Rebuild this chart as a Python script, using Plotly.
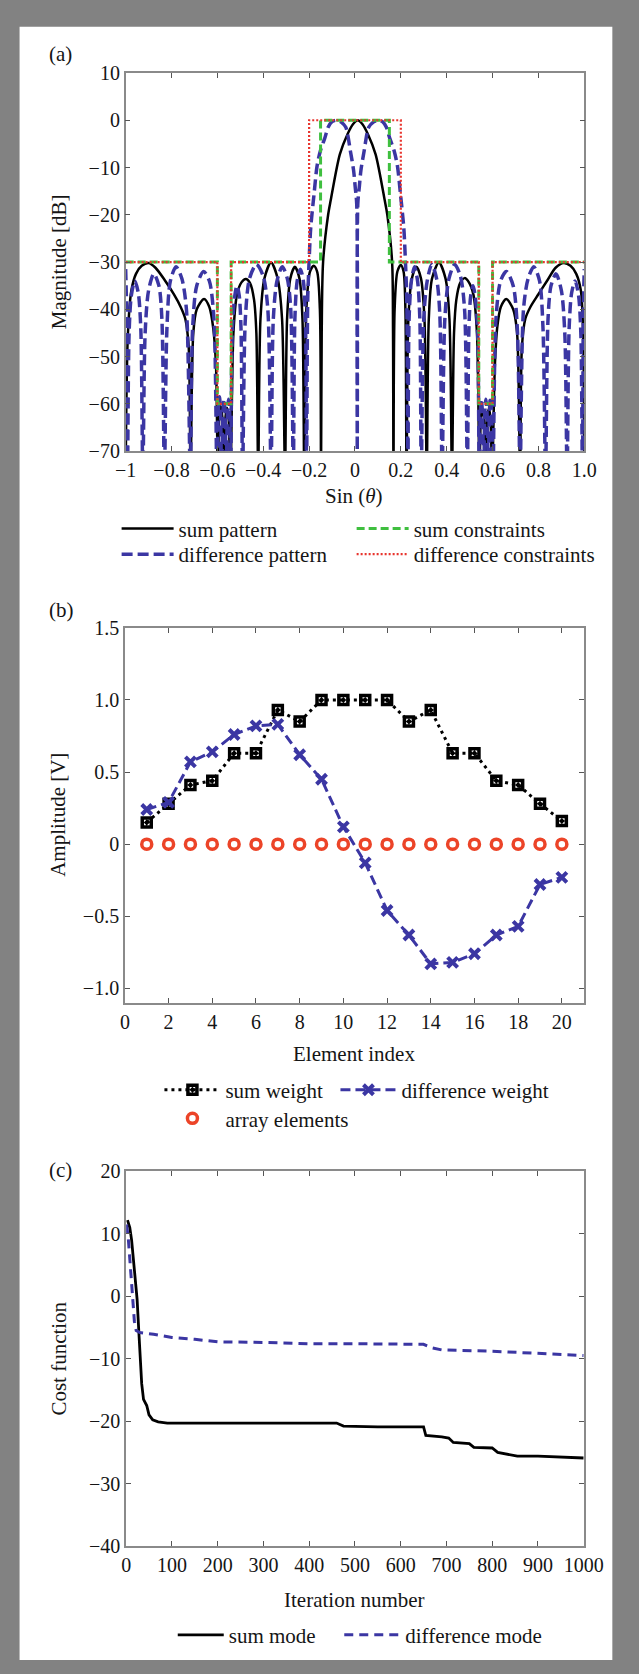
import plotly.graph_objects as go

W, H = 639, 1674
FONT = "Liberation Serif"

# ---------------- Panel (a) data ----------------
sum_x = [-1.0, -0.99, -0.975, -0.955, -0.93, -0.9, -0.87, -0.83, -0.79, -0.76, -0.74, -0.725, -0.717,
         -0.705, -0.69, -0.658, -0.635, -0.618, -0.606, -0.598,
         -0.592, -0.585, -0.578, -0.572, -0.565, -0.558, -0.551, -0.543,
         -0.53, -0.515, -0.495, -0.476, -0.457, -0.44, -0.43, -0.422,
         -0.412, -0.395, -0.366, -0.337, -0.318, -0.305,
         -0.296, -0.282, -0.262, -0.242, -0.229, -0.221,
         -0.212, -0.196, -0.18, -0.165, -0.153, -0.148,
         -0.145, -0.139, -0.117, -0.106, -0.066, -0.033, -0.008, 0.012,
         0.032, 0.057, 0.09, 0.13, 0.141, 0.162, 0.166, 0.168,
         0.173, 0.185, 0.2, 0.212, 0.22, 0.225,
         0.233, 0.248, 0.268, 0.288, 0.303, 0.313,
         0.322, 0.336, 0.366, 0.395, 0.412, 0.423,
         0.432, 0.442, 0.458, 0.478, 0.497, 0.517, 0.532, 0.543,
         0.549, 0.556, 0.563, 0.57, 0.577, 0.584, 0.591, 0.598,
         0.61, 0.62, 0.636, 0.66, 0.69, 0.707, 0.72,
         0.728, 0.743, 0.765, 0.8, 0.84, 0.875, 0.91, 0.94, 0.965, 0.985, 0.995, 1.0]
sum_db = [-75, -45, -36, -32.5, -30.8, -30.2, -31.2, -33.8, -36.8, -39.5, -42, -48, -75,
          -45, -40, -37.8, -39.5, -44, -52, -75,
          -63, -60.5, -63, -75, -63, -60.8, -63, -75,
          -45, -37, -34.3, -33.6, -34.5, -38, -45, -75,
          -42, -33.5, -30.1, -33.5, -42, -75,
          -42, -33.5, -31, -33.5, -42, -75,
          -40, -32, -30.8, -32, -40, -75,
          -45, -30, -20, -17, -7.2, -3, -0.8, 0,
          -0.8, -3, -7.2, -17, -20, -30, -45, -75,
          -40, -32, -30.6, -32, -40, -75,
          -42, -33.5, -31, -33.5, -42, -75,
          -42, -33.5, -30.1, -33.5, -42, -75,
          -45, -38, -34.5, -33.4, -34.3, -37, -45, -75,
          -63, -61, -63, -75, -63, -61, -63, -75,
          -52, -44, -39.5, -37.8, -40, -45, -75,
          -48, -42, -39.5, -36.8, -33.8, -31.2, -30.2, -30.8, -32.5, -36, -45, -75]

diff_x = [-1.0, -0.996, -0.992,
          -0.985, -0.975, -0.96, -0.945, -0.934, -0.925,
          -0.915, -0.9, -0.877, -0.855, -0.842, -0.831,
          -0.82, -0.805, -0.78, -0.755, -0.735, -0.718,
          -0.708, -0.69, -0.66, -0.635, -0.615, -0.602,
          -0.596, -0.591, -0.586, -0.582, -0.576, -0.571, -0.566, -0.562, -0.556, -0.551, -0.546, -0.542,
          -0.535, -0.525, -0.515, -0.505, -0.497, -0.49,
          -0.478, -0.46, -0.43, -0.4, -0.38, -0.366,
          -0.356, -0.34, -0.317, -0.295, -0.28, -0.269,
          -0.262, -0.252, -0.238, -0.225, -0.216, -0.211,
          -0.206, -0.2, -0.193, -0.179, -0.165, -0.151, -0.131, -0.117, -0.1, -0.08, -0.06, -0.04,
          -0.02, -0.006, 0.001, 0.0075, 0.01,
          0.0125, 0.019, 0.026, 0.04, 0.06, 0.08, 0.1, 0.12, 0.137, 0.151, 0.171, 0.185, 0.199,
          0.213, 0.22, 0.226, 0.231,
          0.236, 0.246, 0.26, 0.273, 0.283, 0.289,
          0.3, 0.315, 0.335, 0.356, 0.37, 0.38,
          0.392, 0.41, 0.435, 0.46, 0.478, 0.49,
          0.497, 0.505, 0.515, 0.525, 0.535, 0.542,
          0.546, 0.551, 0.556, 0.562, 0.566, 0.571, 0.576, 0.582, 0.586, 0.591, 0.596, 0.602,
          0.615, 0.635, 0.66, 0.69, 0.708, 0.72,
          0.735, 0.755, 0.78, 0.805, 0.82, 0.831,
          0.842, 0.855, 0.877, 0.9, 0.915, 0.925,
          0.934, 0.945, 0.96, 0.975, 0.985, 0.992,
          0.996, 1.0]
diff_db = [-31.5, -40, -75,
           -45, -37, -34, -36.5, -44, -75,
           -45, -36, -32.5, -35, -42, -75,
           -44, -34, -31, -33.5, -40, -75,
           -44, -35, -32, -34, -42, -75,
           -62, -58.5, -62, -75, -62, -59, -62, -75, -62, -59, -62, -75,
           -45, -37.5, -35, -37, -44, -75,
           -42, -33.5, -30.5, -33, -40, -75,
           -42, -34, -31, -33.5, -40, -75,
           -42, -34, -31.5, -34, -42, -75,
           -38, -29.8, -22.8, -15.9, -9.6, -6.5, -3.7, -1.5, -0.3, 0, -0.4, -1.5,
           -6.5, -10.6, -14.1, -17.6, -75,
           -17.6, -14.1, -10.6, -6.5, -1.5, -0.4, 0, -0.3, -1.5, -3.7, -6.5, -9.6, -15.9,
           -22.8, -29.8, -38, -75,
           -42, -34, -31, -34, -42, -75,
           -42, -34, -30.5, -33.5, -41, -75,
           -42, -33.5, -30.5, -33, -40, -75,
           -44, -37, -35, -37.5, -45, -75,
           -62, -59, -62, -75, -62, -59, -62, -75, -62, -58.5, -62, -75,
           -42, -34, -32, -35, -44, -75,
           -40, -33.5, -31, -34, -44, -75,
           -42, -35, -32.5, -36, -45, -75,
           -44, -36.5, -34, -37, -45, -75,
           -40, -31.5]

sumc_x = [-1.0, -0.6, -0.54, -0.15, 0.15, 0.54, 0.6, 1.0]
sumc_db = [-30, -60, -30, 0, -30, -60, -30, -30]
diffc_x = [-1.0, -0.6, -0.54, -0.2, 0.2, 0.54, 0.6, 1.0]
diffc_db = [-30, -60, -30, 0, -30, -60, -30, -30]

a_xticks = [-1, -0.8, -0.6, -0.4, -0.2, 0, 0.2, 0.4, 0.6, 0.8, 1.0]
a_xtext = ["\u22121", "\u22120.8", "\u22120.6", "\u22120.4", "\u22120.2", "0", "0.2", "0.4", "0.6", "0.8", "1.0"]

# ---------------- Panel (b) data ----------------
element = list(range(1, 21))
sum_weight = [0.15, 0.28, 0.41, 0.44, 0.63, 0.63, 0.93, 0.85, 1.0, 1.0,
              1.0, 1.0, 0.85, 0.93, 0.63, 0.63, 0.44, 0.41, 0.28, 0.16]
diff_weight = [0.24, 0.29, 0.57, 0.64, 0.76, 0.82, 0.83, 0.62, 0.45, 0.12,
               -0.13, -0.46, -0.63, -0.83, -0.82, -0.76, -0.63, -0.57, -0.28, -0.23]
array_elem = [0] * 20
b_yticks = [-1.0, -0.5, 0, 0.5, 1.0, 1.5]
b_ytext = ["\u22121.0", "\u22120.5", "0", "0.5", "1.0", "1.5"]

# ---------------- Panel (c) data ----------------
sum_iter = [3, 8, 12, 16, 20, 24, 28, 31, 34, 38, 45, 50, 58, 70, 90, 200, 300, 400, 460, 475,
            550, 650, 655, 690, 705, 715, 750, 760, 800, 812, 845, 855, 900, 950, 1000]
sum_cost = [12.2, 11, 9, 6, 3, -0.5, -6, -10, -14, -16.5, -17.5, -19, -19.8, -20.1, -20.3, -20.3,
            -20.3, -20.3, -20.3, -20.8, -20.9, -20.9, -22.3, -22.5, -22.7, -23.4, -23.6, -24.2,
            -24.3, -25.0, -25.4, -25.6, -25.6, -25.7, -25.9]
diff_iter = [1, 5, 10, 14, 18, 22, 30, 60, 100, 150, 200, 300, 400, 500, 600, 650, 670, 690,
             800, 900, 1000]
diff_cost = [11.5, 9, 4, -1, -4, -5.5, -5.8, -6.1, -6.6, -6.9, -7.3, -7.4, -7.6, -7.6, -7.6,
             -7.7, -8.3, -8.6, -8.8, -9.1, -9.5]

BLACK = "#000000"
BLUE = "#3b36a3"
GREEN = "#3fbf3f"
RED = "#e8352e"
CIRC = "#ec4428"

fig = go.Figure()

# panel (a)
fig.add_trace(go.Scatter(x=sum_x, y=sum_db, mode="lines", name="sum pattern",
                         line=dict(color=BLACK, width=2.5, shape="spline", smoothing=0.8),
                         xaxis="x", yaxis="y", legend="legend", showlegend=True))
fig.add_trace(go.Scatter(x=diff_x, y=diff_db, mode="lines", name="difference pattern",
                         line=dict(color=BLUE, width=3.5, dash="11px,5px", shape="spline", smoothing=0.8),
                         xaxis="x", yaxis="y", legend="legend3"))
fig.add_trace(go.Scatter(x=sumc_x, y=sumc_db, mode="lines", name="sum constraints",
                         line=dict(color=GREEN, width=3, dash="8px,4px", shape="hv"),
                         xaxis="x", yaxis="y", legend="legend2"))
fig.add_trace(go.Scatter(x=diffc_x, y=diffc_db, mode="lines", name="difference constraints",
                         line=dict(color=RED, width=2.2, dash="2px,2px", shape="hv"),
                         xaxis="x", yaxis="y", legend="legend4"))

# panel (b)
fig.add_trace(go.Scatter(x=element, y=sum_weight, mode="lines+markers", name="sum weight",
                         line=dict(color=BLACK, width=3, dash="3px,4px"),
                         marker=dict(symbol="square-open-dot", size=9, color=BLACK,
                                     line=dict(width=3.5, color=BLACK)),
                         xaxis="x2", yaxis="y2", legend="legend5"))
fig.add_trace(go.Scatter(x=element, y=diff_weight, mode="lines+markers", name="difference weight",
                         line=dict(color=BLUE, width=3, dash="10px,5px"),
                         marker=dict(symbol="x-thin", size=10, color=BLUE,
                                     line=dict(width=4, color=BLUE)),
                         xaxis="x2", yaxis="y2", legend="legend6"))
fig.add_trace(go.Scatter(x=element, y=array_elem, mode="markers", name="array elements",
                         marker=dict(symbol="circle-open", size=10, color=CIRC,
                                     line=dict(width=3.5, color=CIRC)),
                         xaxis="x2", yaxis="y2", legend="legend7"))

# panel (c)
fig.add_trace(go.Scatter(x=sum_iter, y=sum_cost, mode="lines", name="sum mode",
                         line=dict(color=BLACK, width=2.8),
                         xaxis="x3", yaxis="y3", legend="legend8"))
fig.add_trace(go.Scatter(x=diff_iter, y=diff_cost, mode="lines", name="difference mode",
                         line=dict(color=BLUE, width=3, dash="9px,6px"),
                         xaxis="x3", yaxis="y3", legend="legend9"))


def px_x(p):
    return p / W


def px_y(p):
    return 1 - p / H


axis_common = dict(showline=True, linecolor="#8a8a8a", linewidth=1.5, mirror="ticks",
                   ticks="inside", ticklen=5, tickwidth=1.3, tickcolor="#555555",
                   showgrid=False, zeroline=False,
                   tickfont=dict(family=FONT, size=20, color="#151515"))

fig.update_layout(
    width=W, height=H, autosize=False,
    margin=dict(l=0, r=0, t=0, b=0),
    paper_bgcolor="#828282", plot_bgcolor="white",
    showlegend=True, hovermode=False,
    font=dict(family=FONT, size=21, color="#151515"),
    xaxis=dict(domain=[px_x(120.5), px_x(602.5)], range=[-1, 1], anchor="y",
               tickvals=a_xticks, ticktext=a_xtext, **axis_common),
    yaxis=dict(domain=[px_y(446), px_y(62.8)], range=[-70, 10], dtick=10, anchor="x",
               **axis_common),
    xaxis2=dict(domain=[px_x(119.7), px_x(601.9)], range=[0, 21], anchor="y2",
                tickvals=list(range(0, 21, 2)), **axis_common),
    yaxis2=dict(domain=[px_y(1005), px_y(625)], range=[-1.1, 1.5], anchor="x2",
                tickvals=b_yticks, ticktext=b_ytext, **axis_common),
    xaxis3=dict(domain=[px_x(121), px_x(601.9)], range=[0, 1000], dtick=100, anchor="y3",
                **axis_common),
    yaxis3=dict(domain=[px_y(1555.5), px_y(1175.8)], range=[-40, 20], dtick=10, anchor="x3",
                **axis_common),
    shapes=[dict(type="rect", xref="paper", yref="paper", x0=px_x(9), x1=px_x(632),
                 y0=px_y(1671), y1=px_y(16), fillcolor="white", line=dict(width=0),
                 layer="below")],
)

leg_common = dict(orientation="h", xanchor="left", yanchor="top", bgcolor="rgba(0,0,0,0)",
                  font=dict(family=FONT, size=21, color="#151515"))


def leg(x_start, y_center, iw):
    # x_start: left edge of legend symbol; y_center: vertical centre of the row (pixels)
    return dict(x=px_x(x_start - 5), y=px_y(y_center - 20), itemwidth=iw, **leg_common)


fig.update_layout(
    legend=leg(116, 524, 52),
    legend2=leg(363, 524, 52),
    legend3=leg(116, 550, 52),
    legend4=leg(363, 550, 52),
    legend5=leg(161, 1092.7, 56),
    legend6=leg(346, 1092.7, 56),
    legend7=leg(161, 1121.7, 56),
    legend8=leg(175, 1645, 46),
    legend9=leg(350, 1645, 56),
)

ann = []


def add_text(txt, x, y, angle=0):
    ann.append(dict(text=txt, x=px_x(x), y=px_y(y), xref="paper", yref="paper",
                    showarrow=False, xanchor="center", yanchor="middle", textangle=angle,
                    font=dict(family=FONT, size=21, color="#151515")))


add_text("(a)", 52, 43.6)
add_text("Magnitude [dB]", 50, 254, -90)
add_text("Sin (<i>θ</i>)", 361, 491.7)
add_text("(b)", 53, 606.7)
add_text("Amplitude [V]", 50, 815, -90)
add_text("Element index", 360, 1056.7)
add_text("(c)", 52, 1174)
add_text("Cost function", 50, 1366, -90)
add_text("Iteration number", 361, 1610)
fig.update_layout(annotations=ann)

fig.write_html("out.html", config={"displayModeBar": False},
               post_script="document.body.style.margin='0';document.body.style.padding='0';"
                           "document.documentElement.style.overflow='hidden';")
